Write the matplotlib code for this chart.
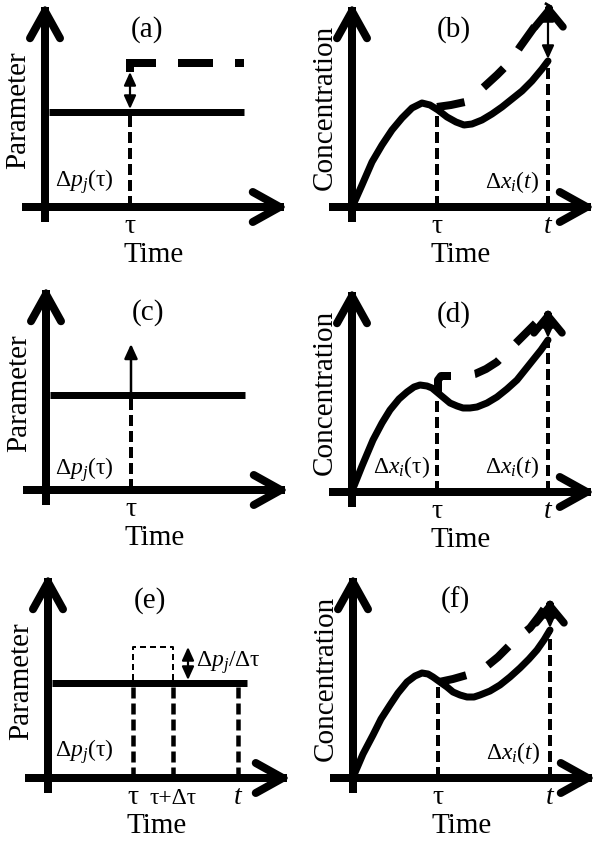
import matplotlib
matplotlib.use('Agg')
import matplotlib.pyplot as plt
from matplotlib.patches import FancyArrowPatch

plt.rcParams['font.family'] = ['Liberation Serif', 'DejaVu Serif']
plt.rcParams['mathtext.fontset'] = 'custom'
plt.rcParams['mathtext.rm'] = 'Liberation Serif'
plt.rcParams['mathtext.it'] = 'Liberation Serif:italic'
plt.rcParams['lines.scale_dashes'] = False

# ---------------- data (schematic units: time / value above axis) ----------
tau = 85
t_end = 196
param_base = 95
param_step = 144          # (a) step-changed parameter
param_impulse = 146       # (c) impulse arrow top
pulse_top = 131           # (e) rectangular pulse height
tau_plus = 125            # (e) tau + delta tau
t_end_e = 190             # (e) t
param_t_start = 4
param_t_end = 199

# (b) nominal and perturbed concentration
conc_b_t = [2, 10, 20, 30, 40, 50, 60, 70, 78, 86, 95, 104, 112, 120, 130, 140, 150, 160, 170, 180, 190, 196]
conc_b_x = [4, 22, 45, 62, 77, 89, 99, 104, 102, 97, 90, 85, 82, 83, 87, 93, 100, 108, 116, 126, 138, 146]
pert_b_t = [85, 99, 113, 123, 133, 145, 158, 168, 178, 188, 197]
pert_b_x = [100, 102, 105, 112, 121, 132, 145, 160, 174, 188, 203]

# (d)
conc_d_t = [2, 10, 21, 30, 38, 47, 55, 62, 68, 75, 80, 86, 92, 98, 105, 111, 118, 125, 135, 145, 155, 165, 173, 181, 189, 196]
conc_d_x = [6, 26, 52, 69, 82, 93, 100, 105, 107, 106, 104, 99, 94, 89, 86, 84, 84, 85, 89, 95, 103, 112, 122, 132, 142, 152]
pert_d_t = [86, 86, 89, 100, 112, 123, 134, 145, 155, 165, 175, 185, 196]
pert_d_x = [99, 112, 116, 116, 116, 118, 123, 130, 140, 150, 160, 170, 182]

# (f)
conc_f_t = [1, 10, 20, 28, 37, 45, 54, 62, 69, 75, 80, 87, 94, 100, 107, 114, 121, 127, 137, 147, 157, 167, 176, 184, 191, 197]
conc_f_x = [3, 24, 43, 59, 73, 85, 96, 102, 105, 104, 101, 96, 91, 86, 83, 81, 81, 83, 87, 93, 101, 110, 119, 128, 138, 148]
pert_f_t = [86, 100, 114, 125, 134, 145, 157, 167, 177, 187, 197]
pert_f_x = [96, 99, 103, 107, 112, 121, 133, 142, 150, 163, 178]

panel_labels = ['(a)', '(b)', '(c)', '(d)', '(e)', '(f)']
ylabels = ['Parameter', 'Concentration'] * 3
xlabel = 'Time'

# ---------------- layout -------------------------------------------------
W, H = 600, 843
origins = [(45, 207), (352, 207), (46, 490), (352, 492), (48, 778), (353, 778)]
PX = 0.72  # points per pixel at dpi 100

fig = plt.figure(figsize=(W / 100, H / 100), dpi=100)
ax = fig.add_axes([0, 0, 1, 1])
ax.set_xlim(0, W)
ax.set_ylim(H, 0)
ax.axis('off')

AX_LW = 8 * PX
CURVE_LW = 7 * PX
FS_BIG = 21
FS_SMALL = 17
FS_TICK = 20


def P(o, t, v):
    """panel-local (time, value) -> figure pixel coordinates"""
    return o[0] + t, o[1] - v


def line(o, ts, vs, **kw):
    xs = [o[0] + t for t in ts]
    ys = [o[1] - v for v in vs]
    ax.plot(xs, ys, color='k', **kw)


def chevron(tip, direction, lw, hl, hw):
    dx, dy = direction
    start = (tip[0] - dx, tip[1] - dy)
    a = FancyArrowPatch(start, tip, arrowstyle=f'->,head_length={hl * PX},head_width={hw * PX}',
                        lw=lw, color='k', mutation_scale=1, shrinkA=0, shrinkB=0,
                        capstyle='round', joinstyle='round')
    ax.add_patch(a)


def dbl_arrow(p0, p1):
    a = FancyArrowPatch(p0, p1, arrowstyle=f'<|-|>,head_length={11 * PX},head_width={5 * PX}',
                        lw=2.2 * PX, color='k', mutation_scale=1, shrinkA=0, shrinkB=0)
    ax.add_patch(a)


def up_arrow(p0, p1):
    a = FancyArrowPatch(p0, p1, arrowstyle=f'-|>,head_length={12 * PX},head_width={5.5 * PX}',
                        lw=2.5 * PX, color='k', mutation_scale=1, shrinkA=0, shrinkB=0)
    ax.add_patch(a)


def vdash(o, t, v0, v1, lw=4):
    line(o, [t, t], [v0, v1], lw=lw * PX, dashes=(11 * PX, 5 * PX), dash_capstyle='butt')


def axes_frame(o, label, ylab):
    ox, oy = o
    top, bot, left, right = oy - 204, oy + 15, ox - 23, ox + 243
    ax.plot([ox, ox], [bot, top + 4], color='k', lw=AX_LW, solid_capstyle='butt')
    ax.plot([left, right - 4], [oy, oy], color='k', lw=AX_LW, solid_capstyle='butt')
    chevron((ox, top), (0, -12), AX_LW, 27, 15)
    chevron((right, oy), (12, 0), AX_LW, 27, 15)
    ax.text(ox + 102, oy - 170, label, fontsize=FS_BIG, ha='center', va='baseline')
    ax.text(ox + 109, oy + 55, xlabel, fontsize=FS_BIG, ha='center', va='baseline')
    cy = oy - 97 if ylab == 'Parameter' else oy - 100
    ax.text(ox - 20, cy, ylab, fontsize=FS_BIG, rotation=90, rotation_mode='anchor',
            ha='center', va='baseline')


def tick(o, t, s, fs=FS_TICK):
    ax.text(o[0] + t, o[1] + 26, s, fontsize=fs, ha='center', va='baseline')


for o, lab, yl in zip(origins, panel_labels, ylabels):
    axes_frame(o, lab, yl)

# ---------------- (a) step change ----------------------------------------
oa = origins[0]
line(oa, [param_t_start, param_t_end], [param_base, param_base], lw=7 * PX, solid_capstyle='butt')
line(oa, [tau, tau, param_t_end], [param_step - 9, param_step, param_step], lw=8 * PX,
     dashes=(35 * PX, 22 * PX), dash_capstyle='butt', dash_joinstyle='miter')
vdash(oa, tau, 0, param_base - 3)
dbl_arrow(P(oa, tau, param_step - 9), P(oa, tau, param_base + 3))
tick(oa, tau, 'τ')
ax.text(oa[0] + 10, oa[1] - 20, r'$\Delta p_j$(τ)', fontsize=FS_SMALL, ha='left', va='baseline')

# ---------------- (c) impulse --------------------------------------------
oc = origins[2]
line(oc, [param_t_start, param_t_end], [param_base, param_base], lw=7 * PX, solid_capstyle='butt')
vdash(oc, tau, 0, param_base - 3)
up_arrow(P(oc, tau, param_base), P(oc, tau, param_impulse))
tick(oc, tau, 'τ')
ax.text(oc[0] + 9, oc[1] - 15, r'$\Delta p_j$(τ)', fontsize=FS_SMALL, ha='left', va='baseline')

# ---------------- (e) pulse ----------------------------------------------
oe = origins[4]
line(oe, [param_t_start, param_t_end], [param_base, param_base], lw=7 * PX, solid_capstyle='butt')
line(oe, [tau, tau, tau_plus, tau_plus], [param_base + 3, pulse_top, pulse_top, param_base + 3],
     lw=2 * PX, dashes=(6 * PX, 4 * PX))
vdash(oe, tau, 0, param_base - 3, lw=4.5)
vdash(oe, tau_plus, 0, param_base - 3, lw=4.5)
vdash(oe, t_end_e, 0, param_base - 3, lw=4.5)
dbl_arrow(P(oe, 140, pulse_top), P(oe, 140, param_base + 3))
tick(oe, tau, 'τ')
tick(oe, tau_plus, 'τ+Δτ', fs=FS_SMALL)
tick(oe, t_end_e, '$t$')
ax.text(oe[0] + 7, oe[1] - 21, r'$\Delta p_j$(τ)', fontsize=FS_SMALL, ha='left', va='baseline')
ax.text(oe[0] + 148, oe[1] - 111, r'$\Delta p_j$/Δτ', fontsize=FS_SMALL, ha='left', va='baseline')

# ---------------- concentration panels -----------------------------------
conc_sets = [
    (origins[1], conc_b_t, conc_b_x, pert_b_t, pert_b_x, False),
    (origins[3], conc_d_t, conc_d_x, pert_d_t, pert_d_x, True),
    (origins[5], conc_f_t, conc_f_x, pert_f_t, pert_f_x, False),
]
for o, ct, cx, pt, pxv, show_tau_label in conc_sets:
    line(o, ct, cx, lw=CURVE_LW, solid_capstyle='round', solid_joinstyle='round')
    line(o, pt, pxv, lw=8 * PX, dashes=(28 * PX, 24 * PX), dash_capstyle='butt',
         dash_joinstyle='round')
    tip = P(o, pt[-1], pxv[-1])
    chevron(tip, (0, -6), 7.5 * PX, 17, 14)
    # vertical guides at tau and t
    i_tau = min(range(len(ct)), key=lambda k: abs(ct[k] - tau))
    vdash(o, tau, 0, cx[i_tau] - 3)
    vdash(o, ct[-1], 0, cx[-1] - 3)
    dbl_arrow(P(o, ct[-1], pxv[-1] - 4), P(o, ct[-1], cx[-1] + 2))
    tick(o, tau, 'τ')
    tick(o, ct[-1], '$t$')
    ax.text(o[0] + 133, o[1] - 19, r'$\Delta x_i(t)$', fontsize=FS_SMALL, ha='left', va='baseline')
    if show_tau_label:
        ax.text(o[0] + 21, o[1] - 19, r'$\Delta x_i$(τ)', fontsize=FS_SMALL, ha='left', va='baseline')

fig.savefig('out.png', dpi=100)
